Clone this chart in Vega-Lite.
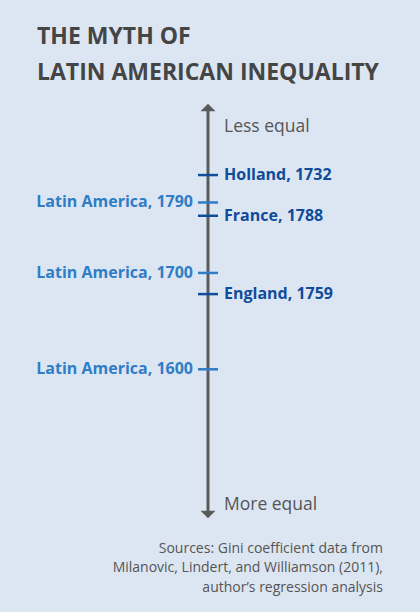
{
  "$schema": "https://vega.github.io/schema/vega-lite/v6.json",
  "width": 420,
  "height": 612,
  "autosize": {"type": "none"},
  "padding": 0,
  "background": "#dce6f3",
  "config": {"view": {"stroke": null}, "font": "Open Sans"},
  "title": {
    "text": ["THE MYTH OF", "LATIN AMERICAN INEQUALITY"],
    "anchor": "start",
    "frame": "group",
    "orient": "top",
    "font": "Open Sans",
    "fontSize": 23,
    "fontWeight": "bold",
    "color": "#454545",
    "lineHeight": 36,
    "baseline": "alphabetic",
    "offset": -103,
    "dx": 37
  },
  "datasets": {
    "points": [
      {"label": "Holland, 1732", "region": "Europe", "gini": 61.1},
      {"label": "Latin America, 1790", "region": "Latin America", "gini": 57.6},
      {"label": "France, 1788", "region": "Europe", "gini": 55.9},
      {"label": "Latin America, 1700", "region": "Latin America", "gini": 48.6},
      {"label": "England, 1759", "region": "Europe", "gini": 45.9},
      {"label": "Latin America, 1600", "region": "Latin America", "gini": 36.3}
    ]
  },
  "layer": [
    {
      "data": {"values": [{}]},
      "mark": {"type": "rule", "color": "#5a5a5a", "strokeWidth": 3},
      "encoding": {
        "x": {"datum": 0, "type": "quantitative", "scale": {"domain": [-10.4, 10.6], "nice": false, "zero": false}, "axis": null},
        "y": {"datum": 69.7, "type": "quantitative", "scale": {"domain": [5.31, 83.45], "nice": false, "zero": false}, "axis": null},
        "y2": {"datum": 17.8}
      }
    },
    {
      "data": {"values": [{}]},
      "mark": {"type": "point", "shape": "M-1,0.5L0,-0.5L1,0.5Z", "filled": true, "color": "#5a5a5a", "opacity": 1, "size": 225},
      "encoding": {
        "x": {"datum": 0, "type": "quantitative", "scale": {"domain": [-10.4, 10.6], "nice": false, "zero": false}, "axis": null},
        "y": {"datum": 69.72, "type": "quantitative", "scale": {"domain": [5.31, 83.45], "nice": false, "zero": false}, "axis": null}
      }
    },
    {
      "data": {"values": [{}]},
      "mark": {"type": "point", "shape": "M-1,-0.5L0,0.5L1,-0.5Z", "filled": true, "color": "#5a5a5a", "opacity": 1, "size": 225},
      "encoding": {
        "x": {"datum": 0, "type": "quantitative", "scale": {"domain": [-10.4, 10.6], "nice": false, "zero": false}, "axis": null},
        "y": {"datum": 17.77, "type": "quantitative", "scale": {"domain": [5.31, 83.45], "nice": false, "zero": false}, "axis": null}
      }
    },
    {
      "data": {"name": "points"},
      "mark": {"type": "rule", "strokeWidth": 2.5},
      "encoding": {
        "x": {"datum": -0.5, "type": "quantitative", "scale": {"domain": [-10.4, 10.6], "nice": false, "zero": false}, "axis": null},
        "x2": {"datum": 0.5},
        "y": {"field": "gini", "type": "quantitative", "scale": {"domain": [5.31, 83.45], "nice": false, "zero": false}, "axis": null},
        "color": {"field": "region", "type": "nominal", "scale": {"domain": ["Europe", "Latin America"], "range": ["#0f4c9a", "#2f7dc6"]}, "legend": null}
      }
    },
    {
      "data": {"name": "points"},
      "transform": [{"filter": "datum.region === 'Europe'"}],
      "mark": {"type": "text", "align": "left", "baseline": "middle", "fontSize": 16, "fontWeight": "bold", "font": "Open Sans"},
      "encoding": {
        "x": {"datum": 0.8, "type": "quantitative", "scale": {"domain": [-10.4, 10.6], "nice": false, "zero": false}, "axis": null},
        "y": {"field": "gini", "type": "quantitative", "scale": {"domain": [5.31, 83.45], "nice": false, "zero": false}, "axis": null},
        "text": {"field": "label"},
        "color": {"field": "region", "type": "nominal", "scale": {"domain": ["Europe", "Latin America"], "range": ["#0f4c9a", "#2f7dc6"]}, "legend": null}
      }
    },
    {
      "data": {"name": "points"},
      "transform": [{"filter": "datum.region === 'Latin America'"}],
      "mark": {"type": "text", "align": "right", "baseline": "middle", "fontSize": 16, "fontWeight": "bold", "font": "Open Sans"},
      "encoding": {
        "x": {"datum": -0.75, "type": "quantitative", "scale": {"domain": [-10.4, 10.6], "nice": false, "zero": false}, "axis": null},
        "y": {"field": "gini", "type": "quantitative", "scale": {"domain": [5.31, 83.45], "nice": false, "zero": false}, "axis": null},
        "text": {"field": "label"},
        "color": {"field": "region", "type": "nominal", "scale": {"domain": ["Europe", "Latin America"], "range": ["#0f4c9a", "#2f7dc6"]}, "legend": null}
      }
    },
    {
      "data": {"values": [{"label": "Less equal"}]},
      "mark": {"type": "text", "align": "left", "baseline": "alphabetic", "fontSize": 17.5, "color": "#555555", "font": "Open Sans"},
      "encoding": {
        "x": {"datum": 0.8, "type": "quantitative", "scale": {"domain": [-10.4, 10.6], "nice": false, "zero": false}, "axis": null},
        "y": {"datum": 66.6, "type": "quantitative", "scale": {"domain": [5.31, 83.45], "nice": false, "zero": false}, "axis": null},
        "text": {"field": "label"}
      }
    },
    {
      "data": {"values": [{"label": "More equal"}]},
      "mark": {"type": "text", "align": "left", "baseline": "alphabetic", "fontSize": 17.5, "color": "#555555", "font": "Open Sans"},
      "encoding": {
        "x": {"datum": 0.8, "type": "quantitative", "scale": {"domain": [-10.4, 10.6], "nice": false, "zero": false}, "axis": null},
        "y": {"datum": 18.3, "type": "quantitative", "scale": {"domain": [5.31, 83.45], "nice": false, "zero": false}, "axis": null},
        "text": {"field": "label"}
      }
    },
    {
      "data": {"values": [{"note": "Sources: Gini coefficient data from\nMilanovic, Lindert, and Williamson (2011),\nauthor’s regression analysis"}]},
      "mark": {"type": "text", "align": "right", "baseline": "alphabetic", "fontSize": 14, "lineHeight": 19.5, "lineBreak": "\n", "color": "#555555", "font": "Open Sans"},
      "encoding": {
        "x": {"datum": 8.75, "type": "quantitative", "scale": {"domain": [-10.4, 10.6], "nice": false, "zero": false}, "axis": null},
        "y": {"datum": 12.89, "type": "quantitative", "scale": {"domain": [5.31, 83.45], "nice": false, "zero": false}, "axis": null},
        "text": {"field": "note"}
      }
    }
  ]
}
